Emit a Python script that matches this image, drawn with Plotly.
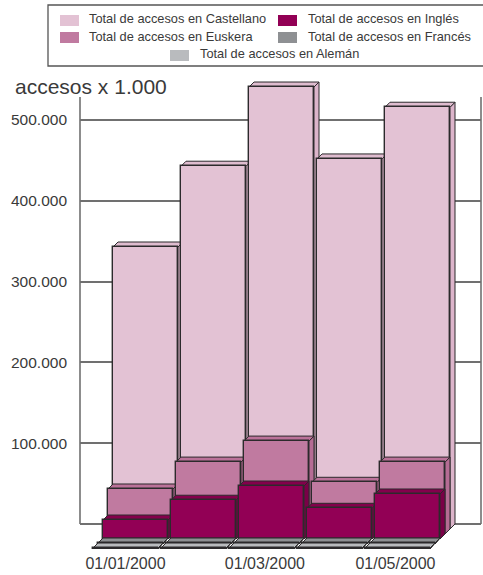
import plotly.graph_objects as go

# Accesos mensuales por idioma (valores en miles, eje rotulado "accesos x 1.000")
meses = [0, 1, 2, 3, 4]
fechas = ["01/01/2000", "01/03/2000", "01/05/2000"]
fechas_mes = [0, 2, 4]
castellano = [349000, 449000, 547000, 458000, 522000]
euskera = [55700, 89000, 115000, 64000, 89000]
ingles = [23500, 48000, 65600, 38000, 55700]
frances = [1200, 1200, 1200, 1200, 1200]
aleman = [1200, 1200, 1200, 1200, 1200]
y_ticks = [100000, 200000, 300000, 400000, 500000]
y_labels = ["100.000", "200.000", "300.000", "400.000", "500.000"]

# Series de fondo a frente: nombre, valores, color frontal, color lateral, color superior
series = [
    ("Total de accesos en Castellano", castellano, "#e3c2d4", "#dcb4ca", "#dfbccf"),
    ("Total de accesos en Euskera", euskera, "#c07aa0", "#b56c94", "#bb7299"),
    ("Total de accesos en Inglés", ingles, "#920055", "#7a0047", "#84004c"),
    ("Total de accesos en Francés", frances, "#8e9093", "#77797c", "#8e9093"),
    ("Total de accesos en Alemán", aleman, "#b9bbbe", "#9a9c9f", "#b9bbbe"),
]

W, H = 483, 575
M_L, M_R, M_T, M_B = 80, 2, 70, 23
PLOT_W = W - M_L - M_R
PLOT_H = H - M_T - M_B
PX_X = 68.0            # pixeles por mes
PX_Y = 404.0 / 500000  # pixeles por acceso
ZERO_PX = 524
X_MIN = -(125.5 - M_L) / PX_X
X_MAX = X_MIN + PLOT_W / PX_X
Y_MIN = (ZERO_PX - (H - M_B)) / PX_Y
Y_MAX = (ZERO_PX - M_T) / PX_Y
FONDO_X = 5 / PX_X     # profundidad de cada fila de barras
FONDO_Y = 5 / PX_Y
ANCHO = 65 / PX_X
TOPE_EJE = (ZERO_PX - 97) / PX_Y
AJUSTE_FECHAS = [0, 0.05, -0.03]  # pequeno ajuste horizontal de los rotulos de fecha

BORDE = "#2c2a2c"
TEXTO = "#3a3a3a"
MARCO = "#707070"
FUENTE = "Liberation Sans"


def px(p):
    return (p - M_L) / PLOT_W


def py(p):
    return (H - M_B - p) / PLOT_H


fig = go.Figure()
total = len(series)
for n, (nombre, valores, frente, lado, tapa) in enumerate(series):
    dx = (total - 1 - n) * FONDO_X  # la fila de fondo queda mas a la derecha
    centro = [m + dx for m in meses]
    base = -(n + 1) * FONDO_Y       # y mas cerca de la linea del suelo

    lados_x, lados_y, tapas_x, tapas_y = [], [], [], []
    for c, v in zip(centro, valores):
        izq, der = c - ANCHO / 2, c + ANCHO / 2
        alto = base + v
        lados_x += [der, der + FONDO_X, der + FONDO_X, der, der, None]
        lados_y += [base, base + FONDO_Y, alto + FONDO_Y, alto, base, None]
        tapas_x += [izq, izq + FONDO_X, der + FONDO_X, der, izq, None]
        tapas_y += [alto, alto + FONDO_Y, alto + FONDO_Y, alto, alto, None]

    for xs, ys, color in ((lados_x, lados_y, lado), (tapas_x, tapas_y, tapa)):
        fig.add_trace(go.Scatter(
            x=xs, y=ys, mode="lines", fill="toself", fillcolor=color,
            line=dict(color=BORDE, width=1), showlegend=False,
            hoverinfo="skip", zorder=2 * n,
        ))
    fig.add_trace(go.Bar(
        x=centro, y=valores, base=[base] * len(valores), width=ANCHO, name=nombre,
        marker=dict(color=frente, line=dict(color=BORDE, width=1.4)),
        showlegend=False, zorder=2 * n + 1,
    ))

# Marco del grafico: paredes laterales (las lineas horizontales salen de la rejilla del eje)
shapes = [
    dict(type="line", xref="x domain", yref="y", x0=0, x1=0, y0=0, y1=TOPE_EJE,
         line=dict(color=MARCO, width=1.6), layer="below"),
    dict(type="line", xref="x domain", yref="y", x0=1, x1=1, y0=0, y1=TOPE_EJE,
         line=dict(color=MARCO, width=1.6), layer="below"),
]

# Leyenda dibujada a mano: dos columnas y una ultima fila centrada
shapes.append(dict(type="rect", xref="paper", yref="paper",
                   x0=px(48), x1=px(490), y0=py(5), y1=py(66),
                   line=dict(color="#555555", width=1.3), fillcolor="white"))
# muestra x, texto x, muestra y (centro), texto y (centro)
posiciones = [(60, 87, 20.5, 19), (60, 87, 37.5, 36), (278, 306, 20.5, 19),
              (278, 306, 37.5, 36), (170, 198, 55.5, 54)]
annotations = []
for (nombre, _, frente, _, _), (sx, tx, sy, ty) in zip(series, posiciones):
    shapes.append(dict(type="rect", xref="paper", yref="paper",
                       x0=px(sx), x1=px(sx + 19), y0=py(sy - 5.5), y1=py(sy + 5.5),
                       line=dict(width=0), fillcolor=frente))
    annotations.append(dict(
        text=nombre, xref="paper", yref="paper", x=px(tx), y=py(ty),
        xanchor="left", yanchor="middle", showarrow=False,
        font=dict(family=FUENTE, size=12.8, color=TEXTO),
    ))

annotations.append(dict(
    text="accesos x 1.000", xref="paper", yref="paper", x=px(13), y=py(86),
    xanchor="left", yanchor="middle", showarrow=False,
    font=dict(family=FUENTE, size=21, color=TEXTO),
))

fig.update_layout(
    width=W, height=H, autosize=False,
    margin=dict(l=M_L, r=M_R, t=M_T, b=M_B, pad=0),
    paper_bgcolor="white", plot_bgcolor="white",
    barmode="overlay", bargap=0, showlegend=False,
    shapes=shapes, annotations=annotations,
    xaxis=dict(
        automargin=False,
        range=[X_MIN, X_MAX], tickmode="array",
        tickvals=[m + a for m, a in zip(fechas_mes, AJUSTE_FECHAS)], ticktext=fechas,
        showgrid=False, zeroline=False, showline=False, ticks="",
        tickfont=dict(family=FUENTE, size=16, color=TEXTO), ticklabelstandoff=0,
    ),
    yaxis=dict(
        automargin=False,
        range=[Y_MIN, Y_MAX], tickmode="array", tickvals=y_ticks, ticktext=y_labels,
        showgrid=True, gridcolor=MARCO, gridwidth=1.6,
        zeroline=True, zerolinecolor=MARCO, zerolinewidth=1.6,
        showline=False, ticks="", ticklabelstandoff=12,
        tickfont=dict(family=FUENTE, size=15.5, color=TEXTO),
    ),
)

fig.write_html("out.html")
